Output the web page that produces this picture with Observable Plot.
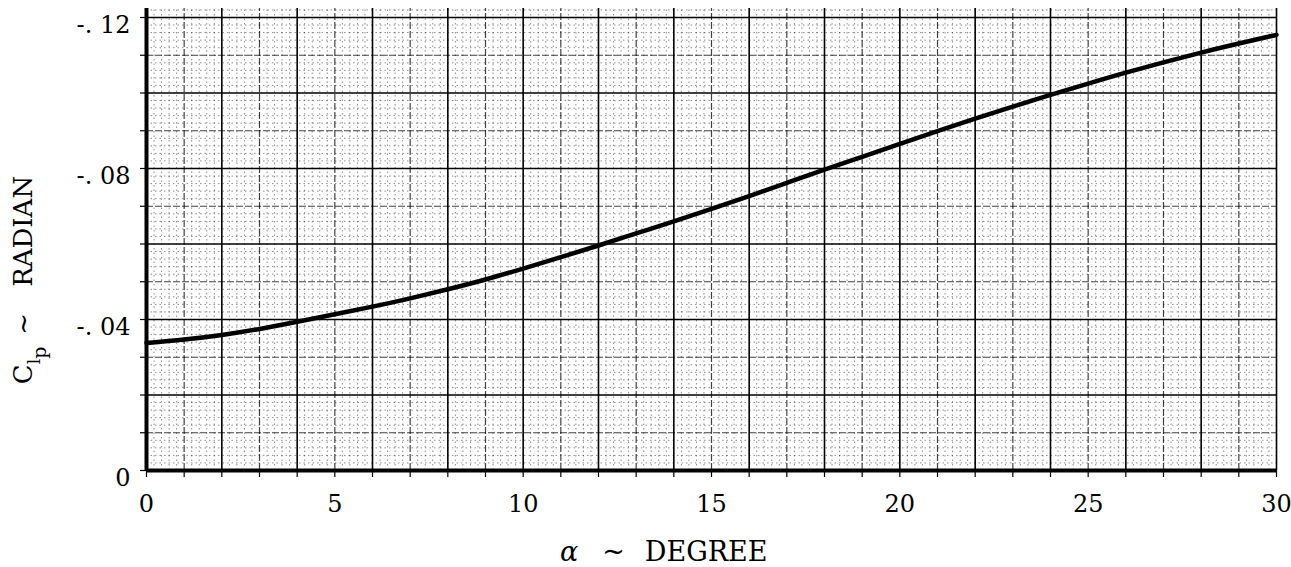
<!DOCTYPE html>
<html><head><meta charset="utf-8">
<script src="https://cdn.jsdelivr.net/npm/d3@7"></script>
<script src="https://cdn.jsdelivr.net/npm/@observablehq/plot@0.6"></script>
<style>body{margin:0;background:#fff} svg{display:block}</style>
</head><body><div id="chart"></div>
<script>
// Data
const alphaDeg = [0,1,2,3,4,5,6,7,8,9,10,11,12,13,14,15,16,17,18,19,20,21,22,23,24,25,26,27,28,29,30];
const clp = [-0.0338,-0.0347,-0.0359,-0.0375,-0.0394,-0.0414,-0.0434,-0.0456,-0.0480,-0.0506,-0.0535,-0.0565,-0.0596,-0.0628,-0.0660,-0.0693,-0.0727,-0.0762,-0.0797,-0.0831,-0.0865,-0.0899,-0.0932,-0.0964,-0.0995,-0.1025,-0.1054,-0.1081,-0.1107,-0.1131,-0.1154];
const xTicks = [0,5,10,15,20,25,30];
const xTickLabels = ["0","5","10","15","20","25","30"];
const yTicks = [0,-0.04,-0.08,-0.12];
const yTickLabels = ["0","-. 04","-. 08","-. 12"];

const data = alphaDeg.map((a,i)=>({a, c: clp[i]}));
const gridTop = -0.1224;

// graph-paper grid
const majorX = d3.range(0, 30.001, 2);
const midX = d3.range(1, 30, 2);
const fineX = d3.range(0, 30.001, 0.2).filter(v => Math.abs(v - Math.round(v)) > 1e-6);
const majorY = d3.range(0, 6.5).map(i => -0.02*i);
const midY = d3.range(0, 6).map(i => -0.01 - 0.02*i);
const fineY = d3.range(0, 62).map(i => -0.002*i).filter((v,i) => i % 5 !== 0);

const svg = Plot.plot({
  width: 1291, height: 567,
  marginLeft: 146, marginRight: 15, marginTop: 17, marginBottom: 97,
  style: {fontFamily: "'DejaVu Serif', serif", background: "#fff", color: "#000"},
  x: {domain: [0, 30], label: null},
  y: {domain: [0, -0.12], label: null},
  marks: [
    Plot.ruleX(fineX, {y1: 0, y2: gridTop, stroke: "#000", strokeWidth: 1, strokeOpacity: 0.45, strokeDasharray: "1.5,3"}),
    Plot.ruleY(fineY, {x1: 0, x2: 30, stroke: "#000", strokeWidth: 1, strokeOpacity: 0.45, strokeDasharray: "1.5,3"}),
    Plot.ruleX(midX, {y1: 0, y2: gridTop, stroke: "#000", strokeWidth: 1.2, strokeOpacity: 0.75, strokeDasharray: "7,2"}),
    Plot.ruleY(midY, {x1: 0, x2: 30, stroke: "#000", strokeWidth: 1.2, strokeOpacity: 0.75, strokeDasharray: "7,2"}),
    Plot.ruleX(majorX, {y1: 0, y2: gridTop, stroke: "#000", strokeWidth: 1.6}),
    Plot.ruleY(majorY, {x1: 0, x2: 30, stroke: "#000", strokeWidth: 1.6}),
    Plot.axisX(d3.range(0, 31, 1), {tickSize: 7, tickFormat: () => "", strokeWidth: 1.2, label: null}),
    Plot.axisX(xTicks, {tickSize: 0, tickPadding: 24, fontSize: 24, label: null, tickFormat: (d) => xTickLabels[xTicks.indexOf(d)]}),
    Plot.axisY(d3.range(0, 13).map(i => -0.01*i), {tickSize: 6, tickFormat: () => "", strokeWidth: 1.2, label: null}),
    Plot.axisY(yTicks, {tickSize: 0, tickPadding: 16, fontSize: 24, dy: 8, label: null, tickFormat: (d) => yTickLabels[yTicks.indexOf(d)]}),
    Plot.ruleX([0], {y1: 0, y2: gridTop, stroke: "#000", strokeWidth: 4}),
    Plot.ruleY([0], {x1: 0, x2: 30, stroke: "#000", strokeWidth: 4}),
    Plot.line(data, {x: "a", y: "c", curve: "natural", stroke: "#000", strokeWidth: 4.5})
  ]
});

const s = d3.select(svg);
// y-axis label: C_{l_p} ~ RADIAN
const yl = s.append("text")
  .attr("transform", "translate(32,280) rotate(-90)")
  .attr("text-anchor", "middle")
  .attr("font-family", "'DejaVu Serif', serif")
  .attr("font-size", 26)
  .attr("fill", "#000");
yl.append("tspan").text("C");
yl.append("tspan").attr("font-size", 17).attr("dy", 8).text("l");
yl.append("tspan").attr("font-size", 19).attr("dy", 6).text("p");
yl.append("tspan").attr("dy", -14).attr("dx", 12).text("~");
yl.append("tspan").attr("dx", 26).text("RADIAN");

// x-axis label: α ~ DEGREE
const xl = s.append("text")
  .attr("x", 560).attr("y", 561)
  .attr("text-anchor", "start")
  .attr("font-family", "'DejaVu Serif', serif")
  .attr("font-size", 27)
  .attr("fill", "#000");
xl.append("tspan").attr("font-style", "italic").text("α");
xl.append("tspan").attr("dx", 24).text("~");
xl.append("tspan").attr("dx", 20).text("DEGREE");

document.getElementById("chart").append(svg);
</script>
</body></html>
